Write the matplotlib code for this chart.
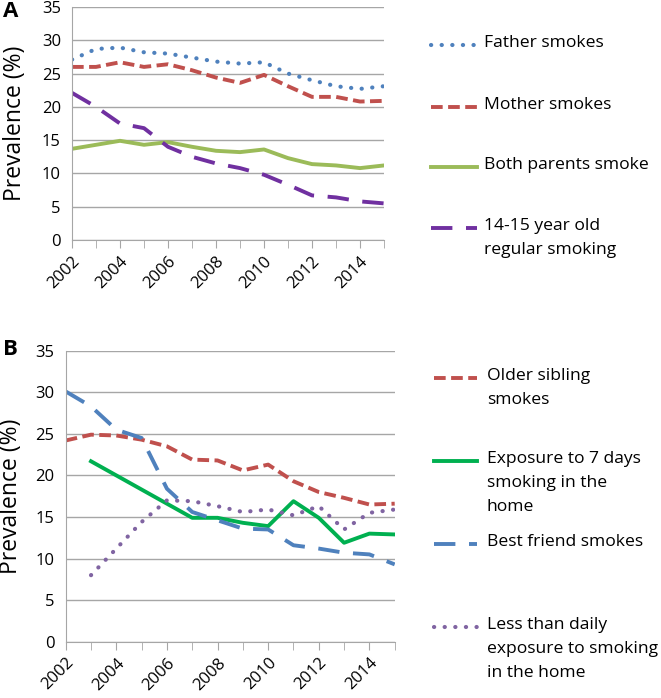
import matplotlib
import matplotlib.pyplot as plt
from matplotlib.lines import Line2D

matplotlib.use('Agg')
plt.rcParams['font.family'] = ['Open Sans', 'DejaVu Sans']

YEARS_A = list(range(2002, 2016))
father = [27.1, 28.7, 28.9, 28.2, 28.0, 27.4, 26.8, 26.5, 26.7, 25.0, 24.0, 23.1, 22.7, 23.1]
mother = [26.0, 26.0, 26.7, 26.0, 26.4, 25.5, 24.4, 23.6, 24.8, 23.1, 21.5, 21.5, 20.8, 20.9]
both_parents = [13.7, 14.3, 14.9, 14.3, 14.7, 14.0, 13.4, 13.2, 13.6, 12.3, 11.4, 11.2, 10.8, 11.2]
regular_1415 = [22.1, 20.0, 17.5, 16.8, 14.0, 12.5, 11.5, 10.8, 9.8, 8.3, 6.7, 6.4, 5.8, 5.5]

YEARS_B = list(range(2002, 2016))
older_sibling = [24.2, 24.9, 24.8, 24.3, 23.5, 21.9, 21.8, 20.6, 21.3, 19.3, 18.0, 17.3, 16.5, 16.6]
best_friend = [30.1, 28.3, 25.5, 24.5, 18.4, 15.6, 14.6, 13.6, 13.5, 11.6, 11.2, 10.7, 10.5, 9.3]
YEARS_B_HOME = list(range(2003, 2016))
exposure_7days = [21.7, 20.0, 18.3, 16.6, 14.9, 14.9, 14.3, 13.9, 16.9, 14.9, 11.9, 13.0, 12.9]
less_daily = [8.0, 11.2, 14.4, 17.0, 16.9, 16.3, 15.6, 15.9, 15.2, 16.3, 13.5, 15.5, 15.9]

TICK_YEARS = list(range(2002, 2016, 2))

BLUE = '#4F81BD'
RED = '#C0504D'
LGREEN = '#9BBB59'
PURPLE = '#7030A0'
GREEN = '#00B050'
LPURPLE = '#8064A2'
GRID = '#A6A6A6'

DOTTED = dict(linestyle=(0, (0.05, 2.5)), dash_capstyle='round', lw=3.0)
DASHED = dict(linestyle=(0, (3.0, 1.4)), dash_capstyle='butt', lw=2.8)
SOLID = dict(linestyle='-', lw=2.8)
LONGDASH = dict(linestyle=(0, (5.5, 3.5)), dash_capstyle='butt', lw=2.8)

fig = plt.figure(figsize=(6.61, 6.98), dpi=100)


def style_axes(ax, x0, x1, label_x):
    ax.set_xlim(x0, x1)
    ax.set_ylim(0, 35)
    ax.set_yticks(range(0, 36, 5))
    ax.set_xticks(range(x0, x1 + 1), minor=True)
    ax.set_xticks(TICK_YEARS)
    ax.set_xticklabels([str(y) for y in TICK_YEARS], rotation=45, ha='right',
                       rotation_mode='anchor', fontsize=12)
    ax.tick_params(axis='y', length=0, labelsize=12, pad=8)
    ax.tick_params(axis='x', which='both', length=6, color=GRID, direction='out')
    ax.grid(axis='y', color=GRID, lw=1)
    ax.set_axisbelow(True)
    for s in ('top', 'right'):
        ax.spines[s].set_visible(False)
    for s in ('left', 'bottom'):
        ax.spines[s].set_color(GRID)
    ax.set_ylabel('Prevalence (%)', fontsize=16.5)
    ax.yaxis.set_label_coords(label_x, 0.5)


def legend(entries, x0, x1, xt):
    for label, ypix, color, style in entries:
        yf = 1 - ypix / 698
        fig.add_artist(Line2D([x0 / 661, x1 / 661], [yf, yf], color=color,
                              transform=fig.transFigure, **style))
        fig.text(xt / 661, yf + 0.014, label, fontsize=12.6, va='top',
                 linespacing=1.65)


# Panel A
axA = fig.add_axes([72 / 661, 1 - 240 / 698, 312 / 661, 233 / 698])
axA.plot(YEARS_A, father, color=BLUE, **DOTTED)
axA.plot(YEARS_A, mother, color=RED, **DASHED)
axA.plot(YEARS_A, both_parents, color=LGREEN, **SOLID)
axA.plot(YEARS_A, regular_1415, color=PURPLE, **LONGDASH)
style_axes(axA, 2002, 2015, -0.145)
fig.text(3 / 661, 1 - 1 / 698, 'A', fontsize=16, fontweight='bold', va='top')

legend([
    ('Father smokes', 45, BLUE, DOTTED),
    ('Mother smokes', 107, RED, DASHED),
    ('Both parents smoke', 167, LGREEN, SOLID),
    ('14-15 year old\nregular smoking', 228, PURPLE, LONGDASH),
], 431, 477, 484)

# Panel B
axB = fig.add_axes([65.7 / 661, 1 - 641.7 / 698, 329 / 661, 291 / 698])
axB.plot(YEARS_B, older_sibling, color=RED, **DASHED)
axB.plot(YEARS_B_HOME, exposure_7days, color=GREEN, **SOLID)
axB.plot(YEARS_B, best_friend, color=BLUE, **LONGDASH)
axB.plot(YEARS_B_HOME, less_daily, color=LPURPLE, **DOTTED)
style_axes(axB, 2002, 2015, -0.13)
fig.text(3 / 661, 1 - 339 / 698, 'B', fontsize=16, fontweight='bold', va='top')

legend([
    ('Older sibling\nsmokes', 378, RED, DASHED),
    ('Exposure to 7 days\nsmoking in the\nhome', 461, GREEN, SOLID),
    ('Best friend smokes', 544, BLUE, LONGDASH),
    ('Less than daily\nexposure to smoking\nin the home', 627, LPURPLE, DOTTED),
], 434, 477, 487)

fig.savefig('out.png', dpi=100)
